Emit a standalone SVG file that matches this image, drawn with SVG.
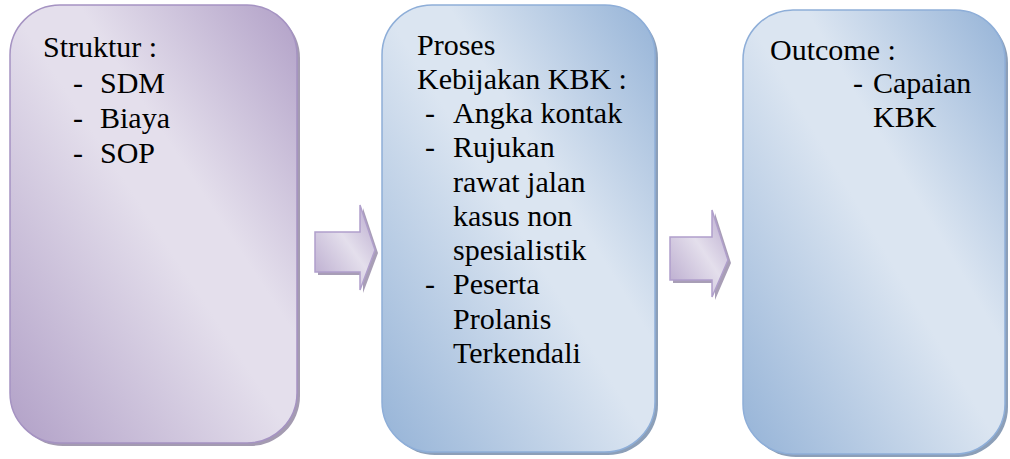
<svg xmlns="http://www.w3.org/2000/svg" width="1010" height="459" viewBox="0 0 1010 459">
<defs>
<linearGradient id="gp" x1="0" y1="1" x2="1" y2="0">
<stop offset="0" stop-color="#b1a0c7"/>
<stop offset="0.5" stop-color="#e4dfec"/>
<stop offset="0.62" stop-color="#e4dfec"/>
<stop offset="1" stop-color="#b1a0c7"/>
</linearGradient>
<linearGradient id="gb" x1="0" y1="1" x2="1" y2="0">
<stop offset="0" stop-color="#95b3d7"/>
<stop offset="0.5" stop-color="#dbe5f1"/>
<stop offset="0.62" stop-color="#dbe5f1"/>
<stop offset="1" stop-color="#95b3d7"/>
</linearGradient>
<linearGradient id="ga" x1="0" y1="1" x2="1" y2="0">
<stop offset="0" stop-color="#b7a7cc"/>
<stop offset="0.55" stop-color="#e4dfec"/>
<stop offset="1" stop-color="#b7a7cc"/>
</linearGradient>
</defs>
<style>
.bp{fill:url(#gp);stroke:#a593c2;stroke-width:1.5}
.bb{fill:url(#gb);stroke:#8eaed8;stroke-width:1.5}
.sp{fill:#a49bb1}
.sb{fill:#8c9fb8}
.ar{fill:url(#ga);stroke:#b09fcb;stroke-width:1.5}
.as{fill:#a89eb6}
</style>
<g id="node-struktur">
<rect class="sp" x="13" y="8" width="287" height="438" rx="50"/>
<rect class="bp" x="10" y="5" width="287" height="438" rx="50"/>
<text x="43" y="57" font-family="'Liberation Serif', 'Times New Roman', serif" font-size="30">Struktur :</text>
<text x="73" y="93" font-family="'Liberation Serif', 'Times New Roman', serif" font-size="30">-</text>
<text x="100" y="93" font-family="'Liberation Serif', 'Times New Roman', serif" font-size="30">SDM</text>
<text x="73" y="128" font-family="'Liberation Serif', 'Times New Roman', serif" font-size="30">-</text>
<text x="100" y="128" font-family="'Liberation Serif', 'Times New Roman', serif" font-size="30">Biaya</text>
<text x="73" y="163" font-family="'Liberation Serif', 'Times New Roman', serif" font-size="30">-</text>
<text x="100" y="163" font-family="'Liberation Serif', 'Times New Roman', serif" font-size="30">SOP</text>
</g>
<g id="node-proses">
<rect class="sb" x="385" y="8" width="273" height="447" rx="50"/>
<rect class="bb" x="382" y="5" width="273" height="447" rx="50"/>
<text x="417" y="55" font-family="'Liberation Serif', 'Times New Roman', serif" font-size="30">Proses</text>
<text x="417" y="89" font-family="'Liberation Serif', 'Times New Roman', serif" font-size="30">Kebijakan KBK :</text>
<text x="425" y="123" font-family="'Liberation Serif', 'Times New Roman', serif" font-size="30">-</text>
<text x="453" y="123" font-family="'Liberation Serif', 'Times New Roman', serif" font-size="30">Angka kontak</text>
<text x="425" y="157" font-family="'Liberation Serif', 'Times New Roman', serif" font-size="30">-</text>
<text x="453" y="157" font-family="'Liberation Serif', 'Times New Roman', serif" font-size="30">Rujukan</text>
<text x="453" y="192" font-family="'Liberation Serif', 'Times New Roman', serif" font-size="30">rawat jalan</text>
<text x="453" y="226" font-family="'Liberation Serif', 'Times New Roman', serif" font-size="30">kasus non</text>
<text x="453" y="260" font-family="'Liberation Serif', 'Times New Roman', serif" font-size="30">spesialistik</text>
<text x="425" y="294" font-family="'Liberation Serif', 'Times New Roman', serif" font-size="30">-</text>
<text x="453" y="294" font-family="'Liberation Serif', 'Times New Roman', serif" font-size="30">Peserta</text>
<text x="453" y="329" font-family="'Liberation Serif', 'Times New Roman', serif" font-size="30">Prolanis</text>
<text x="453" y="363" font-family="'Liberation Serif', 'Times New Roman', serif" font-size="30">Terkendali</text>
</g>
<g id="node-outcome">
<rect class="sb" x="746" y="13" width="262" height="444" rx="50"/>
<rect class="bb" x="743" y="10" width="262" height="444" rx="50"/>
<text x="770" y="60" font-family="'Liberation Serif', 'Times New Roman', serif" font-size="30">Outcome :</text>
<text x="853" y="93" font-family="'Liberation Serif', 'Times New Roman', serif" font-size="30">-</text>
<text x="873" y="93" font-family="'Liberation Serif', 'Times New Roman', serif" font-size="30">Capaian</text>
<text x="873" y="127" font-family="'Liberation Serif', 'Times New Roman', serif" font-size="30">KBK</text>
</g>
<g id="connectors">
<path class="as" d="M318,235 H363 V208 L378,253 L363,293 V275 H318 Z"/>
<path class="ar" d="M315,232 H360 V205 L375,250 L360,290 V272 H315 Z"/>
<path class="as" d="M673,240 H715 V213 L731,263 L715,300 V283 H673 Z"/>
<path class="ar" d="M670,237 H712 V210 L728,260 L712,297 V280 H670 Z"/>
</g>
</svg>
